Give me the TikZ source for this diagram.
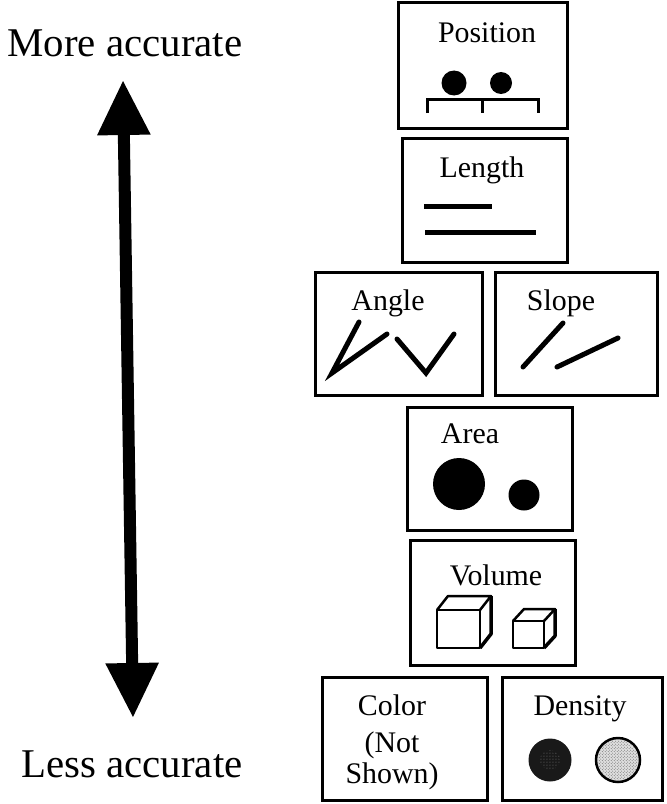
\documentclass[tikz,border=0pt]{standalone}
\usepackage{fontspec}
\setmainfont{Liberation Serif}
\usetikzlibrary{positioning, arrows.meta, patterns}

\tikzset{
    panel/.style={draw, line width=3bp, inner sep=0pt},
    side/.style={anchor=base, inner sep=0pt, font=\fontsize{41}{45}\selectfont},
    title/.style={anchor=base, inner sep=0pt, font=\fontsize{30}{34}\selectfont},
    mark line/.style={line width=5bp, line cap=round}
}

\begin{document}
\begin{tikzpicture}[x=1bp, y=-1bp]
            \useasboundingbox (0, 0) rectangle (667, 804);

            % scale of accuracy
            \node [side] (More) at (125, 57) {More accurate};
            \node [side] (Less) at (132, 777) {Less accurate};
            \coordinate (Top) at (123, 80);
            \coordinate (Bot) at (133, 718);
            \draw [line width=12bp, {Triangle[length=55bp, width=50bp]}-{Triangle[length=55bp, width=50bp]}] (Top) -- (Bot);

            % panels
            \node [panel, minimum width=169bp, minimum height=125bp] (Pos) at (482.5, 65.5) {};
            \node [panel, minimum width=165bp, minimum height=124bp] (Len) at (484.5, 200) {};
            \node [panel, minimum width=167bp, minimum height=123bp] (Ang) at (398.5, 333.5) {};
            \node [panel, minimum width=162bp, minimum height=123bp] (Slo) at (576, 333.5) {};
            \node [panel, minimum width=165bp, minimum height=123bp] (Are) at (489.5, 468.5) {};
            \node [panel, minimum width=165bp, minimum height=125bp] (Vol) at (492.5, 602.5) {};
            \node [panel, minimum width=165bp, minimum height=123bp] (Col) at (404.5, 738.5) {};
            \node [panel, minimum width=160bp, minimum height=123bp] (Den) at (582, 738.5) {};

            \node [title] at (487, 43) {Position};
            \node [title] at (482, 177) {Length};
            \node [title] at (388, 310) {Angle};
            \node [title] at (561, 310) {Slope};
            \node [title] at (470, 443) {Area};
            \node [title] at (496, 585) {Volume};
            \node [title] at (392, 715) {Color};
            \node [title] at (392, 752) {(Not};
            \node [title] at (392, 783) {Shown)};
            \node [title] at (580, 715) {Density};

            % position
            \fill (454, 83) circle [radius=12.5];
            \fill (501, 83) circle [radius=11];
            \draw [line width=3bp] (427, 113) -- (427, 99) -- (538, 99) -- (538, 113);
            \draw [line width=3bp] (482, 99) -- (482, 113);

            % length
            \draw [line width=5bp] (424, 206) -- (492, 206);
            \draw [line width=5bp] (425, 232) -- (536, 232);

            % angle
            \draw [mark line] (359, 322) -- (332, 373) -- (387, 334);
            \draw [mark line] (397, 339) -- (426, 373) -- (454, 334);

            % slope
            \draw [mark line] (523, 367) -- (563, 323);
            \draw [mark line] (557, 367) -- (618, 338);

            % area
            \fill (459, 484) circle [radius=26];
            \fill (524, 495) circle [radius=15.5];

            % volume
            \draw [line width=2.5bp, line join=round] (437, 610) rectangle (480, 648);
            \draw [line width=2.5bp, line join=round] (437, 610) -- (448, 596) -- (491, 596) -- (480, 610);
            \draw [line width=3.5bp, line join=round] (491, 596) -- (491, 634) -- (480, 648);
            \draw [line width=2.5bp, line join=round] (513, 621) rectangle (544, 648);
            \draw [line width=2.5bp, line join=round] (513, 621) -- (524, 609) -- (555, 609) -- (544, 621);
            \draw [line width=3.5bp, line join=round] (555, 609) -- (555, 636) -- (544, 648);

            % density
            \fill [black!90] (550, 760) circle [radius=21.5];
            \fill [pattern=dots, pattern color=gray] (550, 760) circle [radius=10];
            \draw [line width=2.5bp, fill=gray!25] (618, 760) circle [radius=22];
            \fill [pattern=crosshatch dots, pattern color=black!60] (618, 760) circle [radius=20];
        \end{tikzpicture}
\end{document}
